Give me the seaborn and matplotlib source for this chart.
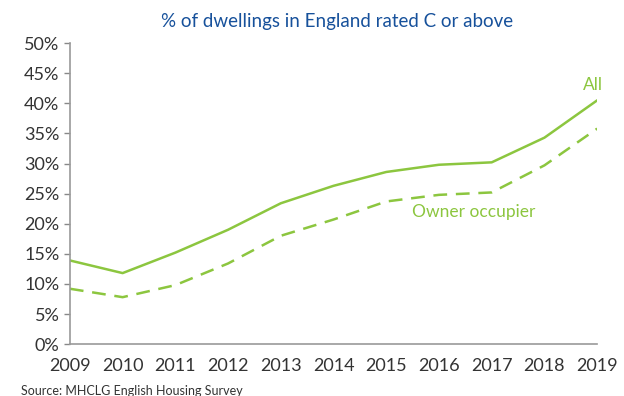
import pandas as pd
import numpy as np
import matplotlib.pyplot as plt
import seaborn as sns
from matplotlib.ticker import PercentFormatter

# Chart data
years = [2009, 2010, 2011, 2012, 2013, 2014, 2015, 2016, 2017, 2018, 2019]
all_dwellings = [13.9, 11.8, 15.2, 19.0, 23.4, 26.3, 28.6, 29.8, 30.2, 34.3, 40.5]
owner_occupier = [9.2, 7.8, 9.8, 13.4, 18.0, 20.7, 23.7, 24.8, 25.2, 29.7, 35.8]
series_names = ['All', 'Owner occupier']

chart_df = pd.concat([
    pd.DataFrame({'year': years, 'value': all_dwellings, 'tenure': series_names[0]}),
    pd.DataFrame({'year': years, 'value': owner_occupier, 'tenure': series_names[1]})
]).reset_index(drop = True)

GREEN = '#8cc63f'
BLUE = '#17519b'
GREY = '#333333'

sns.set_theme(style = 'ticks')
plt.rcParams['font.family'] = ['Lato', 'DejaVu Sans']

fig = plt.figure(figsize = (6.24, 3.96), dpi = 100)
ax = fig.add_axes([0.112, 0.131, 0.845, 0.760])

sns.lineplot(ax = ax,
             data = chart_df,
             x = 'year',
             y = 'value',
             style = 'tenure',
             dashes = {'All': '', 'Owner occupier': (5.5, 3.5)},
             color = GREEN,
             linewidth = 1.8,
             legend = False)

ax.set_xlim(2009, 2019)
ax.set_ylim(0, 50)
ax.set_xticks(years)
ax.set_yticks(np.arange(0, 51, 5))
ax.yaxis.set_major_formatter(PercentFormatter(decimals = 0))
ax.set(xlabel = '', ylabel = '')

ax.tick_params(axis = 'y', labelsize = 13, colors = '#888888', labelcolor = GREY,
               length = 4, width = 1)
ax.tick_params(axis = 'x', labelsize = 13, labelcolor = GREY, length = 0, pad = 10)

for side in ['top', 'right']:
    ax.spines[side].set_visible(False)
for side in ['left', 'bottom']:
    ax.spines[side].set_color('#999999')
    ax.spines[side].set_linewidth(1.2)

# Series labels
ax.text(2018.92, 43.0, 'All', color = GREEN, fontsize = 12.5, ha = 'center', va = 'center')
ax.text(2016.65, 22.0, 'Owner occupier', color = GREEN, fontsize = 12.5, ha = 'center', va = 'center')

fig.text(0.54, 0.945, '% of dwellings in England rated C or above', color = BLUE,
         fontsize = 13.5, ha = 'center', va = 'center')
fig.text(0.033, 0.012, 'Source: MHCLG English Housing Survey', color = GREY,
         fontsize = 9, ha = 'left', va = 'center')

fig.savefig('out.png', dpi = 100)
plt.close()
